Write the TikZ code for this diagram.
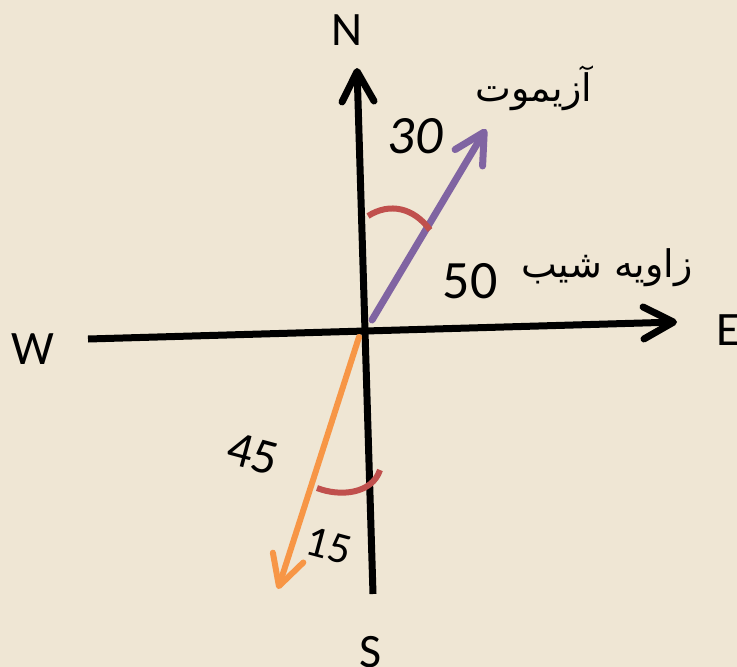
\documentclass[tikz,border=0pt]{standalone}
\usepackage{fontspec}
\setmainfont{Carlito}
\newfontfamily\arabicfont[Script=Arabic]{DejaVu Sans}
\TeXXeTstate=1
\usetikzlibrary{arrows.meta}
\definecolor{bgbeige}{HTML}{EFE6D4}
\definecolor{azpurple}{HTML}{8064A2}
\definecolor{diporange}{HTML}{F79646}
\definecolor{arcred}{HTML}{C0504D}
\tikzset{
  axis/.style={line width=7pt, black},
  barb/.style={-{Straight Barb[length=30pt,width=32pt,round]}},
  azline/.style={line width=7pt, azpurple, line cap=round},
  dipline/.style={line width=6pt, diporange, line cap=round},
  anglearc/.style={line width=6pt, arcred},
  dirlabel/.style={inner sep=0pt, font=\fontsize{48}{56}\selectfont},
  numlabel/.style={inner sep=0pt},
  falabel/.style={inner sep=0pt, font=\arabicfont\fontsize{38}{46}\selectfont}
}
\begin{document}
\begin{tikzpicture}[x=1pt,y=-1pt]
\fill[bgbeige] (0,0) rectangle (737,667);
\useasboundingbox (0,0) rectangle (737,667);
% axis end points
\coordinate (Ntip) at (357,68);
\coordinate (Send) at (373,594);
\coordinate (Wend) at (88,339);
\coordinate (Etip) at (677,322);
\coordinate (Aztail) at (372,320);
\coordinate (Aztip) at (486,129);
\coordinate (Diptail) at (359,337);
\coordinate (Diptip) at (278,589);
% axes
\draw[axis, barb] (Send) -- (Ntip);
\draw[axis, barb] (Wend) -- (Etip);
% azimuth and dip arrows
\draw[azline, barb] (Aztail) -- (Aztip);
\draw[dipline, barb] (Diptail) -- (Diptip);
% angle arcs
\coordinate (a1s) at (368,216);
\coordinate (a1e) at (430,230);
\draw[anglearc] (a1s) .. controls (390,202) and (414,208) .. (a1e);
\coordinate (a2s) at (317,488);
\coordinate (a2e) at (380,470);
\draw[anglearc] (a2s) .. controls (340,497) and (372,494) .. (a2e);
% direction labels
\node[dirlabel] (N) at (347,30) {N};
\node[dirlabel] (S) at (371,652) {S};
\node[dirlabel] (W) at (33,349) {W};
\node[dirlabel, anchor=west] (E) at (716,330) {E};
% numbers
\node[numlabel, font=\fontsize{54}{60}\selectfont\itshape] (n30) at (415,136) {30};
\node[numlabel, font=\fontsize{54}{60}\selectfont] (n50) at (470,281) {50};
\node[numlabel, font=\fontsize{50}{60}\selectfont, rotate=-15] (n45) at (253,454) {45};
\node[numlabel, font=\fontsize{44}{52}\selectfont, rotate=-15] (n15) at (329,546) {15};
% persian labels
\node[falabel] (azim) at (534,88) {\beginR آزیموت\endR};
\node[falabel] (dip) at (607,268) {\beginR زاویه شیب\endR};
\end{tikzpicture}
\end{document}
